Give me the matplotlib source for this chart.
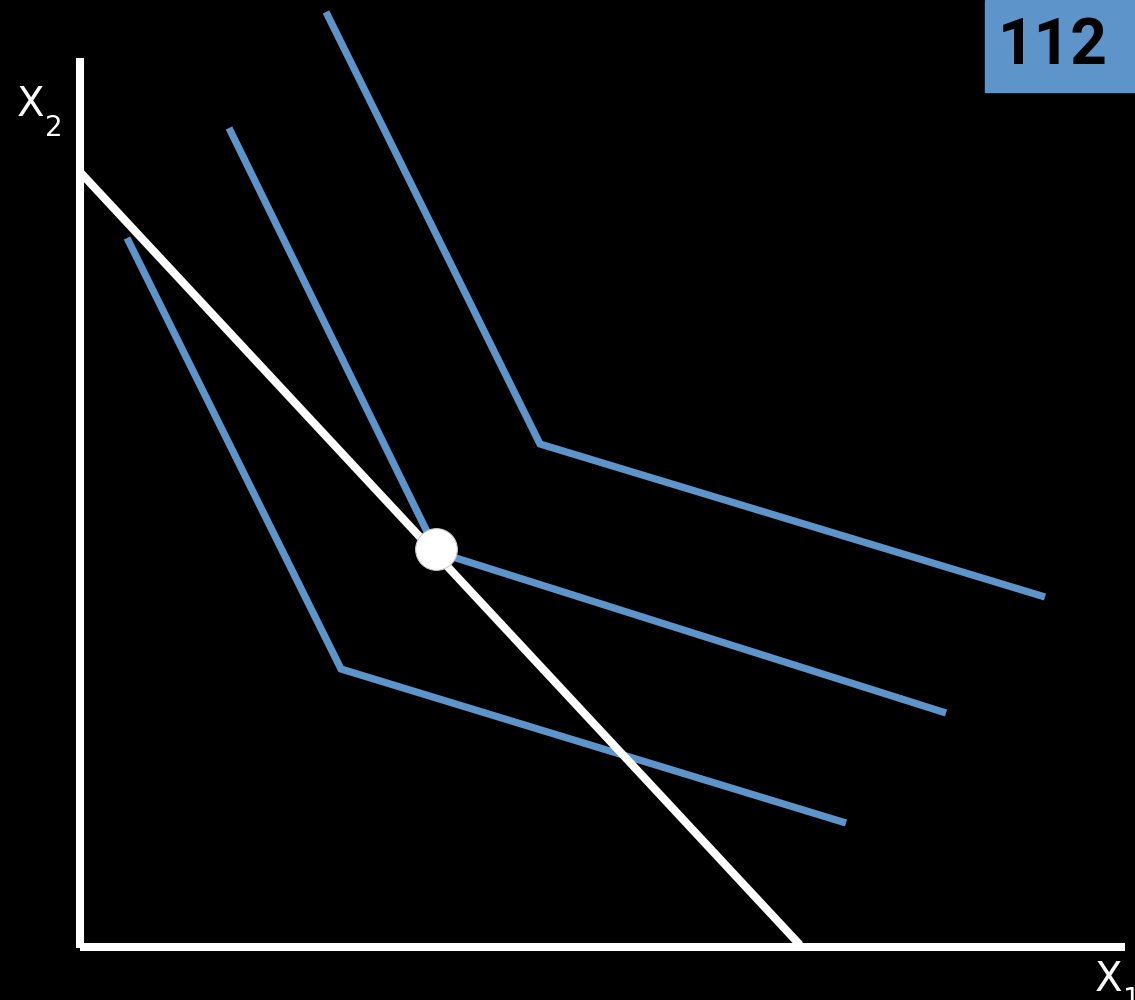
import matplotlib
matplotlib.use("Agg")
import matplotlib.pyplot as plt

# Data (units: origin at the axes corner)
budget_x = [0, 720]
budget_y = [773, 0]

ic_low_x = [47, 261, 766]
ic_low_y = [707, 276, 122]

ic_mid_x = [149, 357, 866]
ic_mid_y = [817, 393, 232]

ic_high_x = [246, 460, 965]
ic_high_y = [933, 501, 348]

opt_x = [356]
opt_y = [396]

axis_x_end = 1045
axis_y_end = 887

page_number = "112"

blue = "#5d94c9"

fig = plt.figure(figsize=(11.35, 10), dpi=100, facecolor="black")
ax = fig.add_axes([0, 0, 1, 1])
ax.set_facecolor("black")
ax.set_xlim(-80, 1055)
ax.set_ylim(-55, 945)
ax.axis("off")

# axes lines
ax.plot([0, 0], [-3, axis_y_end], color="white", lw=5.8, solid_capstyle="butt", zorder=3)
ax.plot([0, axis_x_end], [-2, -2], color="white", lw=5.8, solid_capstyle="butt", zorder=3)

for xs, ys in [(ic_low_x, ic_low_y), (ic_mid_x, ic_mid_y), (ic_high_x, ic_high_y)]:
    ax.plot(xs, ys, color=blue, lw=5.2, solid_joinstyle="miter", solid_capstyle="butt", zorder=2)

ax.plot(budget_x, budget_y, color="white", lw=5.8, solid_capstyle="butt", zorder=3)

ax.scatter(opt_x, opt_y, s=900, color="white", edgecolors="#cccccc", linewidths=0.8, zorder=5)

# axis labels
ax.text(-63, 840, "X", color="white", fontsize=29, family="DejaVu Sans", ha="left", va="center")
ax.text(-35, 817, "2", color="white", fontsize=20, family="DejaVu Sans", ha="left", va="center")
ax.text(1015, -35, "X", color="white", fontsize=29, family="DejaVu Sans", ha="left", va="center")
ax.text(1043, -55, "1", color="white", fontsize=20, family="DejaVu Sans", ha="left", va="center")

# page number box
fig.patches.append(plt.Rectangle((985 / 1135, 1 - 92 / 1000), 150 / 1135, 92 / 1000,
                                 transform=fig.transFigure, color=blue, zorder=1))
fig.text(1053 / 1135, 1 - 46 / 1000, page_number, color="black", fontsize=46,
         fontweight="bold", family="Roboto", ha="center", va="center")

fig.savefig("out.png", dpi=100, facecolor="black")
